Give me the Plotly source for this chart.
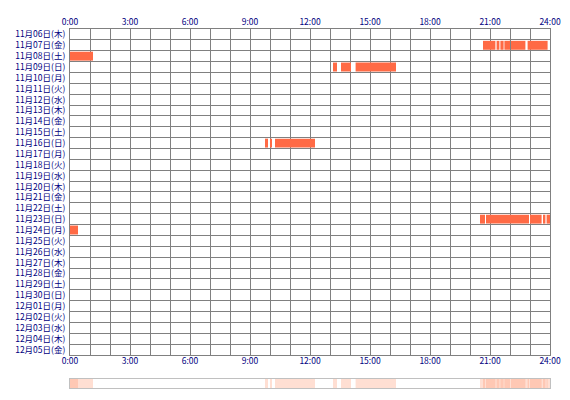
import plotly.graph_objects as go
import datetime as dt

start = dt.date(2025, 11, 6)
wd = "月火水木金土日"
days = [start + dt.timedelta(days=i) for i in range(30)]
day_labels = [f"{d.month}月{d.day:02d}日({wd[d.weekday()]})" for d in days]

# (row index, start hour, end hour)
row_idx = [1,1,1,1,1,1, 2, 3,3,3, 10,10,10, 17,17,17,17,17, 18]
seg_start = [20.65,21.33,21.52,21.72,22.05,22.88, 0.0, 13.15,13.55,14.28, 9.75,10.0,10.25, 20.5,20.8,23.0,23.65,23.83, 0.0]
seg_end   = [21.27,21.47,21.68,22.0,22.77,23.88, 1.15, 13.35,14.05,16.3, 9.9,10.1,12.25, 20.75,22.95,23.58,23.77,24.0, 0.4]

hour_ticks = [0,3,6,9,12,15,18,21,24]
hour_labels = [f"{h}:00" for h in hour_ticks]

fig = go.Figure()
fig.add_trace(go.Bar(y=row_idx, x=[e-s for s, e in zip(seg_start, seg_end)], base=seg_start,
                     orientation="h", marker=dict(color="#ff6a45", line=dict(width=0)),
                     width=0.82, xaxis="x", yaxis="y", hoverinfo="skip"))
fig.add_trace(go.Bar(y=[0]*len(seg_start), x=[e-s for s, e in zip(seg_start, seg_end)], base=seg_start,
                     orientation="h", marker=dict(color="rgba(255,150,110,0.3)", line=dict(width=0)),
                     width=1, xaxis="x2", yaxis="y2", hoverinfo="skip"))

tf = dict(family="Noto Sans CJK JP", size=8.5, color="#000080")
fig.update_layout(
    width=554, height=384, margin=dict(l=62, r=12, t=21, b=4, autoexpand=False),
    paper_bgcolor="white", plot_bgcolor="white", showlegend=False, barmode="overlay",
    xaxis=dict(range=[0,24], side="top", tickvals=hour_ticks, ticktext=hour_labels, tickfont=tf,
               showgrid=True, gridcolor="#808080", gridwidth=1, automargin=False,
               minor=dict(dtick=1, tick0=0, showgrid=True, gridcolor="#808080", gridwidth=1),
               showline=True, linecolor="#808080", mirror=True, zeroline=False, ticks="", anchor="y"),
    xaxis3=dict(range=[0,24], side="bottom", overlaying="x", anchor="y", tickvals=hour_ticks,
                ticktext=hour_labels, tickfont=tf, showgrid=False, zeroline=False, ticks="", automargin=False),
    yaxis=dict(range=[29.5,-0.5], domain=[0.092,1], tickvals=list(range(30)), ticktext=day_labels,
               tickfont=tf, showgrid=False, zeroline=False, ticks="", automargin=False, ticklabelstandoff=2,
               minor=dict(tick0=0.5, dtick=1, showgrid=True, gridcolor="#808080", gridwidth=1),
               showline=True, linecolor="#808080", mirror=True),
    xaxis2=dict(range=[0,24], anchor="y2", showticklabels=False, showgrid=False, zeroline=False,
                showline=True, linecolor="#c0c0c0", mirror=True, ticks="", automargin=False),
    yaxis2=dict(range=[-0.5,0.5], domain=[0,0.025], showticklabels=False, showgrid=False,
                zeroline=False, showline=True, linecolor="#c0c0c0", mirror=True, ticks="", automargin=False),
)
fig.add_trace(go.Scatter(x=[0], y=[0], xaxis="x3", yaxis="y", mode="markers",
                         marker=dict(opacity=0), hoverinfo="skip"))
fig.write_html("out.html")
